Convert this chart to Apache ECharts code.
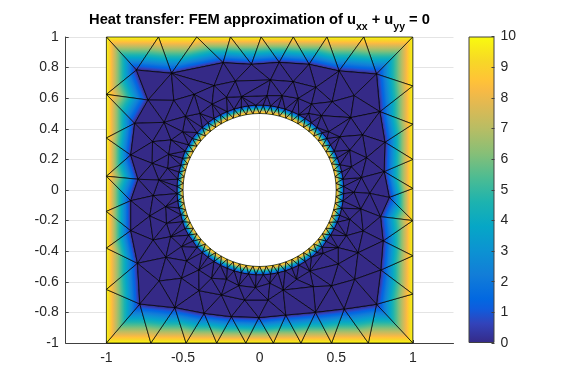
<!DOCTYPE html>
<html>
<head>
<meta charset="utf-8">
<title>Heat transfer FEM</title>
<script src="https://cdn.jsdelivr.net/npm/echarts@6/dist/echarts.min.js"></script>
<style>
  html, body { margin: 0; padding: 0; background: #fff; }
  #main { width: 570px; height: 381px; }
</style>
</head>
<body>
<div id="main"></div>
<script>
// tick labels
const xTicks = [-1, -0.5, 0, 0.5, 1]

// temperature fixed on the square and on the hole, free nodes came out at 0
const outerValue = 10
const holeValue = 10
const innerValue = 0

// parula colormap
const parulaStops = [0, 0.063, 0.111, 0.143, 0.222, 0.302, 0.381, 0.46, 0.54, 0.619, 0.698, 0.778, 0.825, 0.857, 0.921, 1]
const parulaColors = ['#352A87', '#3243BA', '#0F5CDD', '#0268E1', '#127DD8', '#0C93D2', '#06A7C6', '#1DB3AF',
  '#4DBC92', '#87BF77', '#B7BD64', '#E1B952', '#F8BA44', '#FFC337', '#F7D826', '#F9FB0E']

// mesh nodes on the square boundary
const outerNodes = [
  [-1, 1], [-0.66, 1], [-0.41, 1], [-0.19, 1], [0.01, 1], [0.22, 1], [0.44, 1], [0.68, 1], [1, 1],
  [1, 0.68], [1, 0.43], [1, 0.2], [1, 0.01], [1, -0.2], [1, -0.43], [1, -0.68], [1, -1],
  [0.71, -1], [0.47, -1], [0.27, -1], [0.09, -1], [-0.09, -1], [-0.28, -1], [-0.48, -1], [-0.71, -1], [-1, -1],
  [-1, -0.65], [-1, -0.38], [-1, -0.14], [-1, 0.09], [-1, 0.34], [-1, 0.625]
]

// mesh nodes on the hole, angle in degrees (radius 0.5)
const holeRadius = 0.5
const holeAngles = [0, 5, 10, 15, 20, 25, 30, 35, 40, 45, 50, 55, 60, 65, 70, 75, 80, 85, 90, 95, 100, 105, 110, 115,
  120, 125, 130, 135, 140, 145, 150, 155, 160, 165, 170, 175, 180, 185, 190, 195, 200, 205, 210, 215, 220, 225, 230, 235,
  240, 245, 250, 255, 260, 265, 270, 275, 280, 285, 290, 295, 300, 305, 310, 315, 320, 325, 330, 335, 340, 345, 350, 355]

// first ring of free nodes around the hole, angle in degrees and radius
const ringAngles = [2.5, 7.5, 12.5, 17.5, 22.5, 27.5, 32.5, 37.5, 42.5, 47.5, 52.5, 57.5, 62.5, 67.5, 72.5, 77.5, 82.5, 87.5,
  92.5, 97.5, 102.5, 107.5, 112.5, 117.5, 122.5, 127.5, 132.5, 137.5, 142.5, 147.5, 152.5, 157.5, 162.5, 167.5, 172.5, 177.5,
  182.5, 187.5, 192.5, 197.5, 202.5, 207.5, 212.5, 217.5, 222.5, 227.5, 232.5, 237.5, 242.5, 247.5, 252.5, 257.5, 262.5, 267.5,
  272.5, 277.5, 282.5, 287.5, 292.5, 297.5, 302.5, 307.5, 312.5, 317.5, 322.5, 327.5, 332.5, 337.5, 342.5, 347.5, 352.5, 357.5]
const ringRadii = [0.55, 0.55, 0.55, 0.55, 0.55, 0.55, 0.55, 0.555, 0.555, 0.555, 0.555, 0.555, 0.555, 0.555, 0.555, 0.555, 0.555, 0.555,
  0.555, 0.555, 0.555, 0.555, 0.555, 0.555, 0.555, 0.555, 0.555, 0.555, 0.555, 0.55, 0.55, 0.545, 0.54, 0.54, 0.54, 0.54,
  0.54, 0.54, 0.54, 0.54, 0.545, 0.55, 0.55, 0.55, 0.555, 0.555, 0.555, 0.555, 0.555, 0.555, 0.555, 0.555, 0.555, 0.555,
  0.555, 0.555, 0.555, 0.555, 0.555, 0.555, 0.555, 0.555, 0.555, 0.555, 0.55, 0.55, 0.55, 0.55, 0.55, 0.55, 0.55, 0.55]

// the other free nodes, read quadrant by quadrant
const innerNodes = [
  [-0.804, 0.784], [-0.575, 0.763], [-0.238, 0.832], [-0.053, 0.821], [-0.728, 0.588], [-0.427, 0.625],
  [-0.297, 0.682], [-0.158, 0.712], [-0.56, 0.586], [-0.31, 0.562], [-0.216, 0.606], [-0.118, 0.61],
  [-0.815, 0.436], [-0.623, 0.442], [-0.484, 0.481], [-0.39, 0.501], [-0.699, 0.316], [-0.578, 0.327],
  [-0.503, 0.381], [-0.841, 0.229], [-0.593, 0.233], [-0.701, 0.174], [-0.601, 0.142], [-0.793, 0.07], [-0.658, 0.065],

  [0.128, 0.834], [0.323, 0.821], [0.519, 0.778], [0.763, 0.758], [0.071, 0.719], [0.219, 0.708],
  [0.367, 0.671], [0.049, 0.617], [0.147, 0.617], [0.252, 0.599], [0.339, 0.562], [0.474, 0.577],
  [0.617, 0.617], [0.785, 0.512], [0.404, 0.486], [0.595, 0.473], [0.321, 0.501], [0.672, 0.36],
  [0.524, 0.348], [0.452, 0.381], [0.818, 0.312], [0.589, 0.261], [0.698, 0.211], [0.6, 0.152],
  [0.813, 0.12], [0.665, 0.081],

  [-0.841, -0.07], [-0.695, -0.037], [-0.614, -0.109], [-0.717, -0.17], [-0.841, -0.266], [-0.695, -0.327],
  [-0.58, -0.305], [-0.608, -0.218], [-0.797, -0.479], [-0.612, -0.44], [-0.477, -0.464], [-0.51, -0.37],
  [-0.656, -0.595], [-0.51, -0.577], [-0.397, -0.523], [-0.395, -0.658], [-0.782, -0.745], [-0.553, -0.769],
  [-0.362, -0.806], [-0.249, -0.686], [-0.097, -0.719], [-0.184, -0.828], [-0.005, -0.834], [-0.314, -0.577],
  [-0.216, -0.584], [-0.136, -0.625], [-0.027, -0.638],

  [0.846, -0.048], [0.719, -0.022], [0.617, -0.015], [0.661, -0.124], [0.589, -0.192], [0.789, -0.174],
  [0.676, -0.268], [0.567, -0.299], [0.806, -0.333], [0.513, -0.377], [0.643, -0.41], [0.415, -0.414],
  [0.513, -0.484], [0.791, -0.523], [0.621, -0.584], [0.469, -0.627], [0.35, -0.632], [0.328, -0.53],
  [0.241, -0.584], [0.154, -0.654], [0.067, -0.61], [0.056, -0.719], [0.171, -0.817], [0.365, -0.8],
  [0.552, -0.778], [0.763, -0.747]
]

// all nodes as [x, y, temperature]
const nodes = []
outerNodes.forEach(p => nodes.push([p[0], p[1], outerValue]))
holeAngles.forEach(a => {
  nodes.push([holeRadius * Math.cos(a * Math.PI / 180), holeRadius * Math.sin(a * Math.PI / 180), holeValue])
})
ringAngles.forEach((a, i) => {
  nodes.push([ringRadii[i] * Math.cos(a * Math.PI / 180), ringRadii[i] * Math.sin(a * Math.PI / 180), innerValue])
})
innerNodes.forEach(p => nodes.push([p[0], p[1], innerValue]))

// Delaunay triangulation of the nodes (Bowyer-Watson), same kind of mesh as the original
function triangulate(points) {
  const pts = points.map(p => [p[0], p[1]])
  const n = pts.length
  pts.push([-5000, -5000], [5000, -5000], [0, 5000])
  let tris = [[n, n + 1, n + 2]]

  function inCircle(t, p) {
    const ax = pts[t[0]][0] - p[0], ay = pts[t[0]][1] - p[1]
    const bx = pts[t[1]][0] - p[0], by = pts[t[1]][1] - p[1]
    const cx = pts[t[2]][0] - p[0], cy = pts[t[2]][1] - p[1]
    const det = (ax * ax + ay * ay) * (bx * cy - cx * by)
      - (bx * bx + by * by) * (ax * cy - cx * ay)
      + (cx * cx + cy * cy) * (ax * by - bx * ay)
    const area = (pts[t[1]][0] - pts[t[0]][0]) * (pts[t[2]][1] - pts[t[0]][1])
      - (pts[t[2]][0] - pts[t[0]][0]) * (pts[t[1]][1] - pts[t[0]][1])
    return area > 0 ? det > 0 : det < 0
  }

  for (let i = 0; i < n; i++) {
    const edges = {}
    const keep = []
    tris.forEach(t => {
      if (inCircle(t, pts[i])) {
        [[t[0], t[1]], [t[1], t[2]], [t[2], t[0]]].forEach(e => {
          const key = Math.min(e[0], e[1]) + '_' + Math.max(e[0], e[1])
          edges[key] = edges[key] ? null : e
        })
      } else {
        keep.push(t)
      }
    })
    Object.keys(edges).forEach(key => {
      if (edges[key]) keep.push([edges[key][0], edges[key][1], i])
    })
    tris = keep
  }

  return tris.filter(t => {
    if (t[0] >= n || t[1] >= n || t[2] >= n) return false
    const a = pts[t[0]], b = pts[t[1]], c = pts[t[2]]
    const area = Math.abs((b[0] - a[0]) * (c[1] - a[1]) - (c[0] - a[0]) * (b[1] - a[1]))
    if (area < 1e-9) return false
    // drop what falls in the hole
    const mx = (a[0] + b[0] + c[0]) / 3, my = (a[1] + b[1] + c[1]) / 3
    return Math.sqrt(mx * mx + my * my) > holeRadius
  })
}

const triangles = triangulate(nodes)

const parulaGradient = parulaStops.map((s, i) => ({ offset: s, color: parulaColors[i] }))
const maxValue = 10

function colorOf(u) {
  const t = u / maxValue
  let i = 0
  while (i < parulaStops.length - 1 && parulaStops[i] < t) i++
  return parulaColors[i]
}

// a linear gradient along the steepest direction gives the exact interpolation on a triangle
function triangleFill(pts, us) {
  const umin = Math.min(us[0], us[1], us[2])
  const umax = Math.max(us[0], us[1], us[2])
  if (umax === umin) return colorOf(umin)
  const dx1 = pts[1][0] - pts[0][0], dy1 = pts[1][1] - pts[0][1]
  const dx2 = pts[2][0] - pts[0][0], dy2 = pts[2][1] - pts[0][1]
  const du1 = us[1] - us[0], du2 = us[2] - us[0]
  const det = dx1 * dy2 - dx2 * dy1
  const a = (du1 * dy2 - du2 * dy1) / det
  const b = (dx1 * du2 - dx2 * du1) / det
  const g = a * a + b * b
  const s = pts[us.indexOf(umin)]
  return {
    type: 'linear',
    global: true,
    x: s[0],
    y: s[1],
    x2: s[0] + a * (umax - umin) / g,
    y2: s[1] + b * (umax - umin) / g,
    colorStops: parulaGradient
  }
}

const fontName = '"Liberation Sans", Arial, sans-serif'
const axisColor = '#404040'
const textColor = '#262626'

const chart = echarts.init(document.getElementById('main'), null, { renderer: 'canvas' })

chart.setOption({
  animation: false,
  backgroundColor: '#fff',
  title: {
    text: 'Heat transfer: FEM approximation of u{sub|xx} + u{sub|yy} = 0',
    left: 259.5,
    top: 6,
    textAlign: 'center',
    padding: 0,
    textStyle: {
      fontFamily: fontName,
      fontSize: 14.7,
      fontWeight: 'bold',
      color: '#000',
      rich: {
        sub: {
          fontFamily: fontName,
          fontSize: 10.5,
          fontWeight: 'bold',
          color: '#000',
          padding: [16, 0, 0, 0]
        }
      }
    }
  },
  grid: [
    { left: 65.7, top: 37, width: 387.8, height: 306 },
    { left: 468.5, top: 36.5, width: 26, height: 306.5 }
  ],
  xAxis: [
    {
      type: 'value',
      gridIndex: 0,
      min: -1.2657,
      max: 1.2657,
      axisLine: { show: true, onZero: false, lineStyle: { color: axisColor, width: 1 } },
      axisTick: { show: true, inside: true, length: 3, customValues: xTicks, lineStyle: { color: axisColor } },
      axisLabel: { customValues: xTicks, margin: 8, color: textColor, fontSize: 14, fontFamily: fontName },
      splitLine: { show: true, lineStyle: { color: '#e4e4e4', width: 1 } }
    },
    {
      type: 'category',
      gridIndex: 1,
      data: ['u'],
      axisLine: { show: false },
      axisTick: { show: false },
      axisLabel: { show: false }
    }
  ],
  yAxis: [
    {
      type: 'value',
      gridIndex: 0,
      min: -1,
      max: 1,
      interval: 0.2,
      axisLine: { show: true, onZero: false, lineStyle: { color: axisColor, width: 1 } },
      axisTick: { show: true, inside: true, length: 3, lineStyle: { color: axisColor } },
      axisLabel: { margin: 7, color: textColor, fontSize: 14, fontFamily: fontName, showMinLabel: true, showMaxLabel: true },
      splitLine: { show: true, lineStyle: { color: '#e4e4e4', width: 1 } }
    },
    {
      type: 'value',
      gridIndex: 1,
      position: 'right',
      min: 0,
      max: 10,
      interval: 1,
      z: 5,
      axisLine: { show: false },
      axisTick: { show: true, inside: true, length: 3, lineStyle: { color: axisColor } },
      axisLabel: { margin: 6, color: textColor, fontSize: 14, fontFamily: fontName, showMinLabel: true, showMaxLabel: true },
      splitLine: { show: false }
    }
  ],
  series: [
    {
      type: 'custom',
      xAxisIndex: 0,
      yAxisIndex: 0,
      silent: true,
      clip: false,
      data: triangles.map((t, i) => i),
      renderItem(params, api) {
        const t = triangles[params.dataIndex]
        const pts = t.map(k => api.coord([nodes[k][0], nodes[k][1]]))
        return {
          type: 'polygon',
          shape: { points: pts },
          style: {
            fill: triangleFill(pts, t.map(k => nodes[k][2])),
            stroke: '#000',
            lineWidth: 0.7
          }
        }
      }
    },
    {
      type: 'bar',
      xAxisIndex: 1,
      yAxisIndex: 1,
      silent: true,
      barWidth: '100%',
      data: [maxValue],
      itemStyle: {
        borderColor: axisColor,
        borderWidth: 1,
        color: new echarts.graphic.LinearGradient(0, 1, 0, 0, parulaGradient)
      }
    }
  ]
})
</script>
</body>
</html>
